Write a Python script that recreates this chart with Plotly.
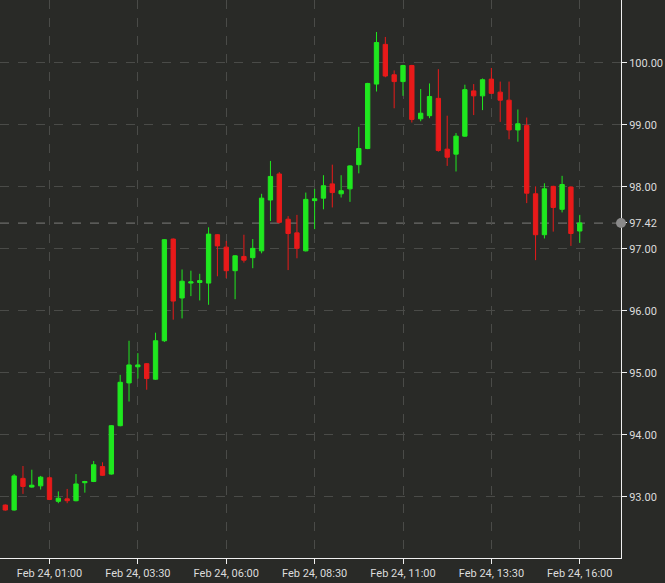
import pandas as pd
import plotly.graph_objects as go

start_time = "2024-02-23 23:45"
n_bars = 66
times = pd.date_range(start_time, periods=n_bars, freq="15min")

open_ = [92.87, 92.79, 93.30, 93.16, 93.18, 93.31, 92.93, 92.97, 92.94, 93.23,
         93.25, 93.49, 93.37, 94.15, 94.84, 95.10, 95.15, 94.90, 95.52, 97.16,
         96.21, 96.45, 96.46, 96.45, 97.23, 97.03, 96.65, 96.88, 96.86, 96.97,
         97.79, 98.21, 97.48, 97.26, 96.97, 97.78, 97.82, 98.05, 97.89, 97.97,
         98.36, 98.62, 99.66, 100.30, 99.81, 99.70, 99.96, 99.10, 99.15, 99.43,
         98.61, 98.53, 98.82, 99.55, 99.47, 99.74, 99.53, 99.40, 98.92, 98.99,
         97.89, 97.23, 98.01, 97.64, 98.00, 97.29]
high = [92.88, 93.37, 93.50, 93.44, 93.34, 93.33, 93.09, 93.13, 93.37, 93.26,
        93.58, 93.56, 94.16, 94.97, 95.52, 95.32, 95.16, 95.65, 97.16, 97.17,
        96.67, 96.65, 96.60, 97.35, 97.24, 97.13, 96.90, 97.23, 97.16, 97.89,
        98.42, 98.24, 97.53, 97.55, 97.91, 97.97, 98.19, 98.36, 98.19, 98.35,
        98.97, 99.68, 100.50, 100.42, 99.88, 99.97, 99.97, 99.58, 99.67, 99.90,
        99.15, 98.87, 99.65, 99.66, 99.75, 99.92, 99.70, 99.70, 99.25, 99.12,
        98.01, 98.06, 98.02, 98.18, 98.01, 97.55]
low = [92.78, 92.78, 93.05, 93.15, 93.12, 92.95, 92.90, 92.90, 92.93, 93.07,
       93.24, 93.34, 93.36, 94.14, 94.54, 94.91, 94.73, 94.89, 95.50, 95.86,
       95.88, 96.24, 96.17, 96.10, 96.56, 96.53, 96.19, 96.78, 96.69, 96.93,
       97.45, 97.41, 96.66, 96.85, 96.96, 97.32, 97.64, 97.67, 97.83, 97.76,
       98.22, 98.61, 99.54, 99.77, 99.27, 99.47, 99.04, 99.06, 99.11, 98.57,
       98.34, 98.25, 98.81, 99.16, 99.24, 99.51, 99.05, 98.77, 98.73, 97.74,
       96.82, 97.17, 97.28, 97.59, 97.05, 97.10]
close = [92.79, 93.34, 93.17, 93.19, 93.32, 92.96, 92.98, 92.94, 93.21, 93.25,
         93.52, 93.35, 94.15, 94.85, 95.13, 95.13, 94.91, 95.52, 97.15, 96.16,
         96.48, 96.47, 96.49, 97.24, 97.05, 96.65, 96.89, 96.82, 97.01, 97.82,
         98.17, 97.43, 97.25, 97.01, 97.80, 97.81, 98.02, 97.91, 97.94, 98.34,
         98.62, 99.67, 100.33, 99.79, 99.70, 99.96, 99.09, 99.19, 99.46, 98.59,
         98.48, 98.82, 99.57, 99.47, 99.73, 99.51, 99.40, 98.92, 99.02, 97.90,
         97.23, 97.97, 97.67, 98.04, 97.25, 97.42]

x_tick_vals = ["2024-02-24 01:00", "2024-02-24 03:30", "2024-02-24 06:00",
               "2024-02-24 08:30", "2024-02-24 11:00", "2024-02-24 13:30",
               "2024-02-24 16:00"]
x_tick_text = ["Feb 24, 01:00", "Feb 24, 03:30", "Feb 24, 06:00", "Feb 24, 08:30",
               "Feb 24, 11:00", "Feb 24, 13:30", "Feb 24, 16:00"]
y_tick_vals = [93, 94, 95, 96, 97, 98, 99, 100]
last_price = 97.42

BG = "#292a27"
GRID = "#4a4b48"
TEXT = "#dcdcdc"
UP = "#1fe81f"
DOWN = "#e81a1a"

fig = go.Figure()
fig.add_trace(go.Candlestick(
    x=times, open=open_, high=high, low=low, close=close,
    increasing=dict(line=dict(color=UP, width=1), fillcolor=UP),
    decreasing=dict(line=dict(color=DOWN, width=1), fillcolor=DOWN),
    whiskerwidth=0, showlegend=False, hoverinfo="skip",
))

ytv = y_tick_vals + [last_price]
ytt = [f"{v:.2f}" for v in y_tick_vals] + [f"{last_price:.2f}"]

fig.add_shape(type="line", xref="paper", x0=0, x1=1, yref="y", y0=last_price, y1=last_price,
              line=dict(color="#9a9a9a", width=1, dash="dash"), layer="below")
fig.add_shape(type="circle", xref="paper", xsizemode="pixel", xanchor=1, x0=-5, x1=5,
              yref="y", ysizemode="pixel", yanchor=last_price, y0=-5, y1=5,
              fillcolor="#8a8a8a", line=dict(width=0), layer="above")

fig.update_layout(
    width=665, height=583,
    paper_bgcolor=BG, plot_bgcolor=BG,
    margin=dict(l=0, r=44, t=0, b=25),
    font=dict(family="Roboto, Arial, sans-serif", size=11, color=TEXT),
    showlegend=False,
    xaxis=dict(
        type="date",
        range=["2024-02-23 23:36", "2024-02-24 17:10"],
        rangeslider=dict(visible=False),
        tickvals=x_tick_vals, ticktext=x_tick_text,
        showgrid=True, gridcolor=GRID, griddash="dash", gridwidth=1,
        showline=True, linecolor="#f0f0f0", linewidth=1,
        ticks="outside", ticklen=5, tickcolor="#f0f0f0",
        zeroline=False, fixedrange=True,
    ),
    yaxis=dict(
        side="right",
        range=[92.016, 101.016],
        tickvals=ytv, ticktext=ytt,
        showgrid=True, gridcolor=GRID, griddash="dash", gridwidth=1,
        showline=True, linecolor="#f0f0f0", linewidth=1,
        ticks="outside", ticklen=5, tickcolor="#f0f0f0",
        zeroline=False, fixedrange=True,
    ),
)

fig.write_html(
    "out.html",
    config={"displayModeBar": False},
    post_script="document.body.style.margin='0';document.body.style.background='" + BG + "';",
)
